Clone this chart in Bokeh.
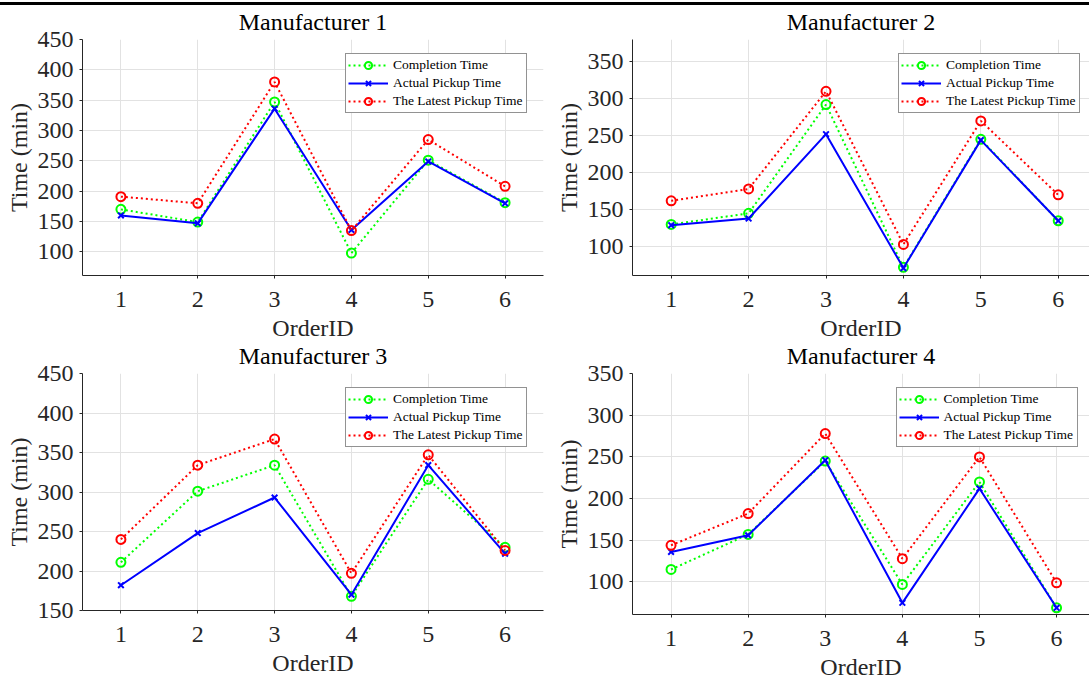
from bokeh.plotting import figure
from bokeh.layouts import column, row
from bokeh.models import Range1d, Legend, LegendItem, Div
from bokeh.embed import file_html
from bokeh.resources import INLINE

# ---------------- data ----------------
order_ids = [1, 2, 3, 4, 5, 6]
x_ticks = [1, 2, 3, 4, 5, 6]
series_names = ["Completion Time", "Actual Pickup Time", "The Latest Pickup Time"]
titles = ["Manufacturer 1", "Manufacturer 2", "Manufacturer 3", "Manufacturer 4"]

m1_completion = [170, 149, 347, 98, 251, 181]
m1_actual = [160, 147, 336, 136, 249, 180]
m1_latest = [191, 180, 380, 135, 285, 208]

m2_completion = [130, 145, 292, 72, 245, 135]
m2_actual = [129, 138, 252, 71, 244, 135]
m2_latest = [162, 178, 310, 103, 270, 170]

m3_completion = [211, 301, 334, 168, 316, 230]
m3_actual = [182, 248, 293, 170, 334, 222]
m3_latest = [240, 334, 367, 197, 347, 226]

m4_completion = [115, 157, 245, 97, 220, 69]
m4_actual = [136, 156, 246, 75, 212, 69]
m4_latest = [144, 182, 278, 128, 250, 99]

m1_yticks = [100, 150, 200, 250, 300, 350, 400, 450]
m2_yticks = [100, 150, 200, 250, 300, 350]
m3_yticks = [150, 200, 250, 300, 350, 400, 450]
m4_yticks = [100, 150, 200, 250, 300, 350]

m1_ylim = (61, 450)
m2_ylim = (61, 380)
m3_ylim = (150, 450)
m4_ylim = (61, 350)

x_label = "OrderID"
y_label = "Time (min)"

# ---------------- style ----------------
FONT = "Liberation Serif"
AX = "#262626"
GRID = "#e2e2e2"
GREEN = "#00ff00"
BLUE = "#0000ff"
RED = "#ff0000"


def make_panel(title, comp, act, late, yticks, ylim, xlim, frame_w, frame_h,
               mb_left, mb_right, mb_top, title_offset, legend_x):
    p = figure(frame_width=frame_w, frame_height=frame_h,
               x_range=Range1d(*xlim), y_range=Range1d(*ylim),
               output_backend="svg", toolbar_location=None,
               min_border_left=mb_left, min_border_right=mb_right,
               min_border_top=mb_top, min_border_bottom=40, title=title)
    p.background_fill_color = "white"
    p.border_fill_color = None
    p.outline_line_color = None

    p.title.text_font = FONT
    p.title.text_font_size = "24px"
    p.title.text_font_style = "normal"
    p.title.text_color = "black"
    p.title.align = "center"
    p.title.standoff = 9
    p.title.offset = title_offset

    p.xaxis.ticker = x_ticks
    p.yaxis.ticker = yticks
    for ax in (p.xaxis[0], p.yaxis[0]):
        ax.axis_line_color = AX
        ax.axis_line_width = 1
        ax.major_tick_line_color = AX
        ax.major_tick_in = 0
        ax.major_tick_out = 3
        ax.minor_tick_line_color = None
        ax.major_label_text_font = FONT
        ax.major_label_text_font_size = "24px"
        ax.major_label_text_color = AX
        ax.axis_label_text_font = FONT
        ax.axis_label_text_font_size = "24px"
        ax.axis_label_text_font_style = "normal"
        ax.axis_label_text_color = AX
    p.xaxis.axis_label = x_label
    p.yaxis.axis_label = y_label
    p.xaxis.major_label_standoff = 13
    p.xaxis.axis_label_standoff = 5
    p.yaxis.major_label_standoff = 6
    p.yaxis.axis_label_standoff = 3

    p.xgrid.grid_line_color = GRID
    p.ygrid.grid_line_color = GRID
    p.xgrid.grid_line_width = 1
    p.ygrid.grid_line_width = 1

    l1 = p.line(order_ids, comp, line_color=GREEN, line_width=2, line_dash="2 3")
    s1 = p.scatter(order_ids, comp, marker="circle", size=9, line_color=GREEN,
                   line_width=2, fill_color=None)
    l2 = p.line(order_ids, act, line_color=BLUE, line_width=2)
    s2 = p.scatter(order_ids, act, marker="x", size=8, line_color=BLUE, line_width=2)
    l3 = p.line(order_ids, late, line_color=RED, line_width=2, line_dash="2 3")
    s3 = p.scatter(order_ids, late, marker="circle", size=9, line_color=RED,
                   line_width=2, fill_color=None)

    legend = Legend(items=[
        LegendItem(label=series_names[0], renderers=[l1, s1]),
        LegendItem(label=series_names[1], renderers=[l2, s2]),
        LegendItem(label=series_names[2], renderers=[l3, s3]),
    ], location=(legend_x, frame_h - 16 - 58))
    legend.margin = 0
    legend.padding = 2
    legend.spacing = 0
    legend.glyph_height = 18
    legend.label_height = 18
    legend.glyph_width = 40
    legend.label_standoff = 5
    legend.label_width = 131
    legend.label_text_font = FONT
    legend.label_text_font_size = "13.5px"
    legend.label_text_color = "black"
    legend.border_line_color = AX
    legend.border_line_width = 1
    legend.background_fill_color = "white"
    legend.background_fill_alpha = 1
    p.add_layout(legend)
    return p


p1 = make_panel(titles[0], m1_completion, m1_actual, m1_latest, m1_yticks, m1_ylim,
                (0.5, 6.5), 461, 236, 82, 7, 39, 0, 263)
p2 = make_panel(titles[1], m2_completion, m2_actual, m2_latest, m2_yticks, m2_ylim,
                (0.5, 6.404), 457, 236, 82, 0, 39, 3.5, 266)
p3 = make_panel(titles[2], m3_completion, m3_actual, m3_latest, m3_yticks, m3_ylim,
                (0.5, 6.5), 461, 237, 82, 7, 31, 0, 263)
p4 = make_panel(titles[3], m4_completion, m4_actual, m4_latest, m4_yticks, m4_ylim,
                (0.5, 6.427), 457, 241, 82, 0, 31, 3.5, 263.5)

# thin dark rule along the top edge, as in the reference image
top_rule = Div(text="", width=1089, height=3, margin=(2, 0, -5, 0),
               styles={"background-color": "#000000"})

layout = column(top_rule, row(p1, p2), row(p3, p4, margin=(-7, 0, 0, 0)))
open("out.html", "w").write(file_html(layout, INLINE))
